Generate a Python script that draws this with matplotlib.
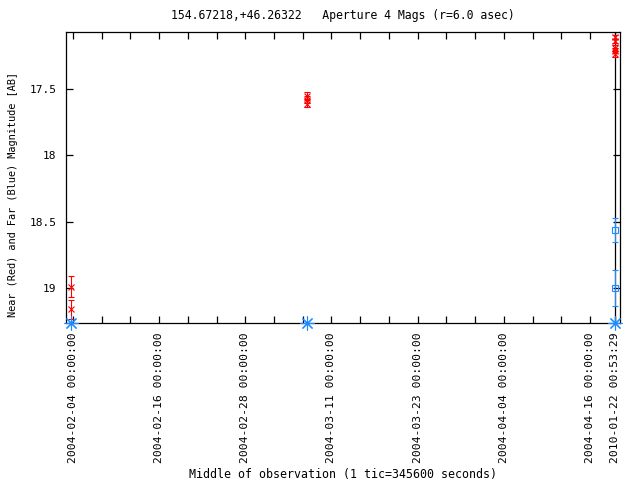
import matplotlib
matplotlib.use("Agg")
import matplotlib.pyplot as plt
import numpy as np

# x positions are days after 2004-02-04 00:00:00 (last group is placed on a break)
red_x = [-0.3, -0.3, 32.6, 32.6, 32.6, 75.5, 75.5, 75.5, 75.5, 75.5]
red_mag = [18.99, 19.16, 17.55, 17.58, 17.61, 17.11, 17.14, 17.19, 17.21, 17.235]
red_err = [0.08, 0.07, 0.025, 0.025, 0.025, 0.015, 0.015, 0.02, 0.02, 0.02]

blue_x = [75.5, 75.5]
blue_mag = [18.56, 19.0]
blue_err = [0.09, 0.135]

# points without a measurement, drawn at the bottom edge
limit_x = [-0.3, 32.6, 75.5]

tick_days = [0, 12, 24, 36, 48, 60, 72, 75.5]
tick_labels = ["2004-02-04 00:00:00", "2004-02-16 00:00:00", "2004-02-28 00:00:00",
               "2004-03-11 00:00:00", "2004-03-23 00:00:00", "2004-04-04 00:00:00",
               "2004-04-16 00:00:00", "2010-01-22 00:53:29"]
minor_days = np.arange(0, 73, 4)

ymin, ymax = 17.07, 19.263
red = "#ff0000"
blue = "#1a8cff"
font = "DejaVu Sans Mono"

fig = plt.figure(figsize=(6.4, 4.8), dpi=100)
ax = fig.add_axes([66 / 640, 1 - 323 / 480, (620 - 66) / 640, (323 - 32) / 480])

ax.errorbar(red_x, red_mag, yerr=red_err, fmt="x", color=red, ms=4, mew=0.8,
            elinewidth=0.8, capsize=2, capthick=0.8, zorder=3)
ax.errorbar(blue_x, blue_mag, yerr=blue_err, fmt="s", color=blue, ms=4, mew=0.8,
            mfc="none", elinewidth=0.8, capsize=2, capthick=0.8, zorder=3)
ax.plot(limit_x, [ymax] * len(limit_x), marker=(8, 2, 0), ls="none", color=blue,
        ms=10, mew=0.8, clip_on=False, zorder=4)
ax.axvline(tick_days[-1], color="black", lw=0.9, zorder=2)

ax.set_xlim(-0.97, 76.18)
ax.set_ylim(ymax, ymin)

ax.set_xticks(tick_days)
ax.set_xticklabels(tick_labels, rotation=90, fontfamily=font, fontsize=8.2)
ax.set_xticks(minor_days, minor=True)
ax.set_yticks([17.5, 18, 18.5, 19])
ax.set_yticklabels(["17.5", "18", "18.5", "19"], fontfamily=font, fontsize=8)
ax.tick_params(which="both", direction="in", length=5, width=0.9,
               top=True, right=True, pad=7)

for s in ax.spines.values():
    s.set_linewidth(0.9)

ax.set_xlabel("Middle of observation (1 tic=345600 seconds)", fontfamily=font,
              fontsize=8.4, labelpad=3)
ax.set_ylabel("Near (Red) and Far (Blue) Magnitude [AB]", fontfamily=font,
              fontsize=7.4)
ax.yaxis.set_label_coords(-0.086, 0.44)
fig.text(343 / 640, 1 - 15 / 480, "154.67218,+46.26322   Aperture 4 Mags (r=6.0 asec)",
         ha="center", va="center", fontfamily=font, fontsize=8.3)

fig.savefig("out.png", dpi=100)
